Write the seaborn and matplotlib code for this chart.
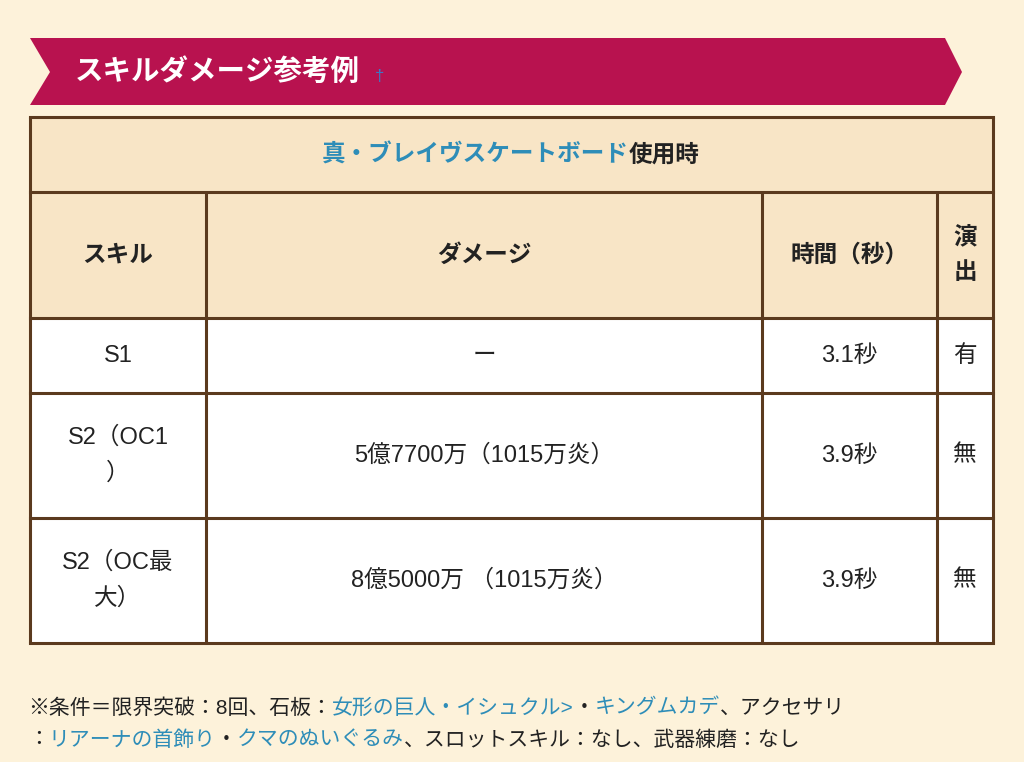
import matplotlib
matplotlib.use("Agg")
import matplotlib.pyplot as plt
import seaborn as sns
from matplotlib.patches import Polygon, Rectangle

sns.set_theme(style="white")
plt.rcParams['font.family'] = ['Liberation Sans', 'Noto Sans CJK JP', 'DejaVu Sans']

title = "スキルダメージ参考例"
weapon = "真・ブレイヴスケートボード"
weapon_suffix = "使用時"
headers = ["スキル", "ダメージ", "時間（秒）", "演\n出"]
skills = ["S1", "S2（OC1\n）", "S2（OC最\n大）"]
damages = ["ー", "5億7700万（1015万炎）", "8億5000万 （1015万炎）"]
times = ["3.1秒", "3.9秒", "3.9秒"]
effects = ["有", "無", "無"]
foot1 = [("※条件＝限界突破：8回、石板：", 0), ("女形の巨人・イシュクル>", 1), ("・", 0),
         ("キングムカデ", 1), ("、アクセサリ", 0)]
foot2 = [("：", 0), ("リアーナの首飾り", 1), ("・", 0), ("クマのぬいぐるみ", 1),
         ("、スロットスキル：なし、武器練磨：なし", 0)]

BG = "#FDF2DA"; HEAD = "#F8E5C6"; LINE = "#5B3A1E"; BANNER = "#B8124F"
BLUE = "#2E8DB8"; TXT = "#222222"

fig = plt.figure(figsize=(10.24, 7.62), dpi=100, facecolor=BG)
ax = fig.add_axes([0, 0, 1, 1]); ax.set_xlim(0, 1024); ax.set_ylim(762, 0); ax.axis("off")
ax.set_facecolor(BG)

ax.add_patch(Polygon([(30, 38), (945, 38), (962, 72), (945, 105), (30, 105), (50, 72)],
                     closed=True, fc=BANNER, ec="none"))

cols = [30, 206, 762, 937, 993]
rows = [117, 192, 318, 393, 518, 643]
ax.add_patch(Rectangle((30, 117), 963, 201, fc=HEAD, ec="none"))
ax.add_patch(Rectangle((30, 318), 963, 325, fc="white", ec="none"))
lw = 2.2
for y in rows:
    ax.plot([30, 993], [y, y], color=LINE, lw=lw, solid_capstyle="projecting")
ax.plot([30, 30], [117, 643], color=LINE, lw=lw)
ax.plot([993, 993], [117, 643], color=LINE, lw=lw)
for x in cols[1:-1]:
    ax.plot([x, x], [192, 643], color=LINE, lw=lw)

t = ax.text(75, 72, title, color="white", fontsize=20.5, fontweight="bold", va="center")

fig.canvas.draw()
r = fig.canvas.get_renderer()
inv = ax.transData.inverted()

def width(txt):
    e = txt.get_window_extent(r)
    return inv.transform((e.x1, 0))[0] - inv.transform((e.x0, 0))[0]

ax.text(75 + width(t) + 15, 76, "†", color="#3A7BC8", fontsize=12, va="center")

a = ax.text(0, 155, weapon, color=BLUE, fontsize=17, fontweight="bold", va="center")
b = ax.text(0, 155, weapon_suffix, color=TXT, fontsize=17, fontweight="bold", va="center")
wa, wb = width(a), width(b)
x0 = 511 - (wa + wb) / 2
a.set_x(x0); b.set_x(x0 + wa)

for i, h in enumerate(headers):
    ax.text((cols[i] + cols[i + 1]) / 2, 255, h, ha="center", va="center", fontsize=17,
            fontweight="bold", color=TXT, linespacing=1.7)

data = [skills, damages, times, effects]
for ri in range(3):
    yc = (rows[ri + 2] + rows[ri + 3]) / 2
    for ci in range(4):
        ax.text((cols[ci] + cols[ci + 1]) / 2, yc, data[ci][ri], ha="center", va="center",
                fontsize=17, color=TXT, linespacing=1.8)

def line(parts, x, y):
    for s, c in parts:
        tt = ax.text(x, y, s, color=BLUE if c else TXT, fontsize=15, va="center")
        x += width(tt)

line(foot1, 28, 708)
line(foot2, 28, 740)

fig.savefig("out.png", dpi=100, facecolor=BG)
